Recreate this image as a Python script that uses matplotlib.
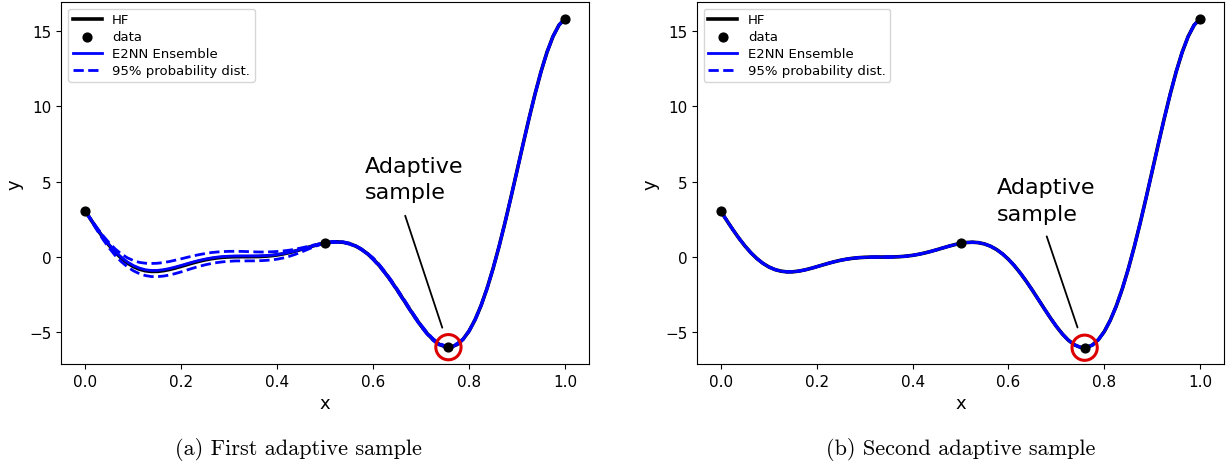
import numpy as np
import matplotlib
matplotlib.use("Agg")
import matplotlib.pyplot as plt

# sample grid (step 0.0125)
x_grid = [i / 80 for i in range(81)]

hf_y = [3.027, 2.411, 1.813, 1.251, 0.738, 0.286, -0.100, -0.414, -0.657, -0.829,
        -0.935, -0.982, -0.978, -0.932, -0.854, -0.753, -0.640, -0.522, -0.407, -0.302,
        -0.210, -0.136, -0.079, -0.040, -0.016, -0.004, 0.000, 0.000, 0.002, 0.011,
        0.030, 0.064, 0.115, 0.184, 0.270, 0.371, 0.483, 0.601, 0.717, 0.823,
        0.909, 0.967, 0.986, 0.957, 0.871, 0.722, 0.503, 0.213, -0.150, -0.580,
        -1.074, -1.621, -2.209, -2.821, -3.439, -4.041, -4.606, -5.107, -5.522, -5.825,
        -5.993, -6.006, -5.845, -5.493, -4.949, -4.199, -3.254, -2.115, -0.799, 0.673,
        2.272, 3.966, 5.712, 7.469, 9.187, 10.812, 12.303, 13.598, 14.648, 15.406,
        15.830]

# (a) ensemble after the first adaptive sample
ens_a_mean = [3.027, 2.421, 1.833, 1.281, 0.778, 0.336, -0.040, -0.349, -0.587, -0.759,
              -0.870, -0.917, -0.913, -0.867, -0.789, -0.688, -0.580, -0.462, -0.347, -0.247,
              -0.160, -0.086, -0.029, 0.010, 0.034, 0.046, 0.050, 0.050, 0.052, 0.056,
              0.070, 0.099, 0.145, 0.209, 0.290, 0.386, 0.493, 0.606, 0.717, 0.823,
              0.909, 0.967, 0.986, 0.957, 0.871, 0.722, 0.503, 0.213, -0.150, -0.580,
              -1.074, -1.621, -2.209, -2.821, -3.439, -4.041, -4.606, -5.107, -5.522, -5.825,
              -5.993, -6.006, -5.845, -5.493, -4.949, -4.199, -3.254, -2.115, -0.799, 0.673,
              2.272, 3.966, 5.712, 7.469, 9.187, 10.812, 12.303, 13.598, 14.648, 15.406,
              15.830]
ens_a_upper = [3.027, 2.451, 1.893, 1.371, 0.908, 0.506, 0.180, -0.074, -0.257, -0.379,
               -0.435, -0.452, -0.438, -0.392, -0.324, -0.233, -0.140, -0.042, 0.053, 0.138,
               0.210, 0.274, 0.311, 0.340, 0.354, 0.356, 0.350, 0.340, 0.322, 0.311,
               0.310, 0.324, 0.345, 0.384, 0.430, 0.501, 0.583, 0.671, 0.767, 0.853,
               0.929, 0.997, 1.016, 0.987, 0.901, 0.752, 0.533, 0.243, -0.080, -0.510,
               -1.004, -1.551, -2.139, -2.751, -3.369, -3.971, -4.536, -5.037, -5.452, -5.755,
               -5.923, -5.936, -5.775, -5.463, -4.919, -4.169, -3.224, -2.085, -0.769, 0.683,
               2.282, 3.976, 5.722, 7.479, 9.197, 10.822, 12.313, 13.608, 14.658, 15.416,
               15.830]
ens_a_lower = [3.027, 2.371, 1.723, 1.111, 0.558, 0.066, -0.340, -0.674, -0.937, -1.129,
               -1.255, -1.322, -1.328, -1.292, -1.224, -1.123, -1.010, -0.882, -0.757, -0.642,
               -0.540, -0.456, -0.389, -0.340, -0.306, -0.284, -0.280, -0.280, -0.278, -0.269,
               -0.250, -0.216, -0.165, -0.086, 0.020, 0.151, 0.303, 0.471, 0.637, 0.783,
               0.889, 0.937, 0.956, 0.927, 0.841, 0.692, 0.473, 0.183, -0.200, -0.630,
               -1.124, -1.671, -2.259, -2.871, -3.489, -4.091, -4.656, -5.157, -5.572, -5.875,
               -6.043, -6.056, -5.895, -5.523, -4.979, -4.229, -3.284, -2.145, -0.829, 0.663,
               2.262, 3.956, 5.702, 7.459, 9.177, 10.802, 12.293, 13.588, 14.638, 15.396,
               15.830]

# (b) ensemble after the second adaptive sample: it collapses onto HF
ens_b_mean = list(hf_y)
ens_b_upper = list(hf_y)
ens_b_lower = list(hf_y)

data_x = [0.0, 0.5, 1.0]
data_y = [3.027, 0.909, 15.83]
adapt_a = (0.757, -6.02)
adapt_b = (0.759, -6.02)

captions = ["(a) First adaptive sample", "(b) Second adaptive sample"]

fig = plt.figure(figsize=(12.28, 4.64), dpi=100)
ax_a = fig.add_axes([0.050, 0.213, 0.4296, 0.780])
ax_b = fig.add_axes([0.5676, 0.213, 0.4292, 0.780])


def draw_panel(ax, mean, upper, lower, adapt, text_xy, line_start, line_end):
    ax.plot(x_grid, hf_y, color="black", lw=2.6, label="HF", zorder=2)
    ax.scatter(data_x + [adapt[0]], data_y + [adapt[1]], color="black", s=40,
               label="data", zorder=4)
    ax.plot(x_grid, mean, color="blue", lw=2.0, label="E2NN Ensemble", zorder=3)
    ax.plot(x_grid, upper, color="blue", lw=2.0, ls="--",
            label="95% probability dist.", zorder=3)
    ax.plot(x_grid, lower, color="blue", lw=2.0, ls="--", zorder=3)

    # red circle around the new sample
    ax.scatter([adapt[0]], [adapt[1]], s=330, facecolors="none",
               edgecolors="#dd0000", linewidths=2.2, zorder=5)

    ax.text(text_xy[0], text_xy[1], "Adaptive\nsample", fontsize=16,
            ha="left", va="top", linespacing=1.4)
    ax.annotate("", xy=line_end, xytext=line_start,
                arrowprops=dict(arrowstyle="-", color="black", lw=1.3))

    ax.set_xlabel("x", fontsize=13)
    ax.set_ylabel("y", fontsize=13)
    ax.tick_params(labelsize=11)
    ax.set_xticks([0.0, 0.2, 0.4, 0.6, 0.8, 1.0])
    ax.set_yticks([-5, 0, 5, 10, 15])
    ax.legend(loc="upper left", fontsize=9.5, handlelength=2.2,
              borderpad=0.35, labelspacing=0.3, handletextpad=0.8)


draw_panel(ax_a, ens_a_mean, ens_a_upper, ens_a_lower, adapt_a,
           (0.582, 6.7), (0.665, 2.9), (0.746, -4.9))
draw_panel(ax_b, ens_b_mean, ens_b_upper, ens_b_lower, adapt_b,
           (0.576, 5.3), (0.678, 1.55), (0.746, -4.85))

fig.text(0.243, 0.032, captions[0], ha="center", va="center",
         fontsize=16, family="cmr10")
fig.text(0.782, 0.032, captions[1], ha="center", va="center",
         fontsize=16, family="cmr10")

fig.savefig("out.png", dpi=100)
